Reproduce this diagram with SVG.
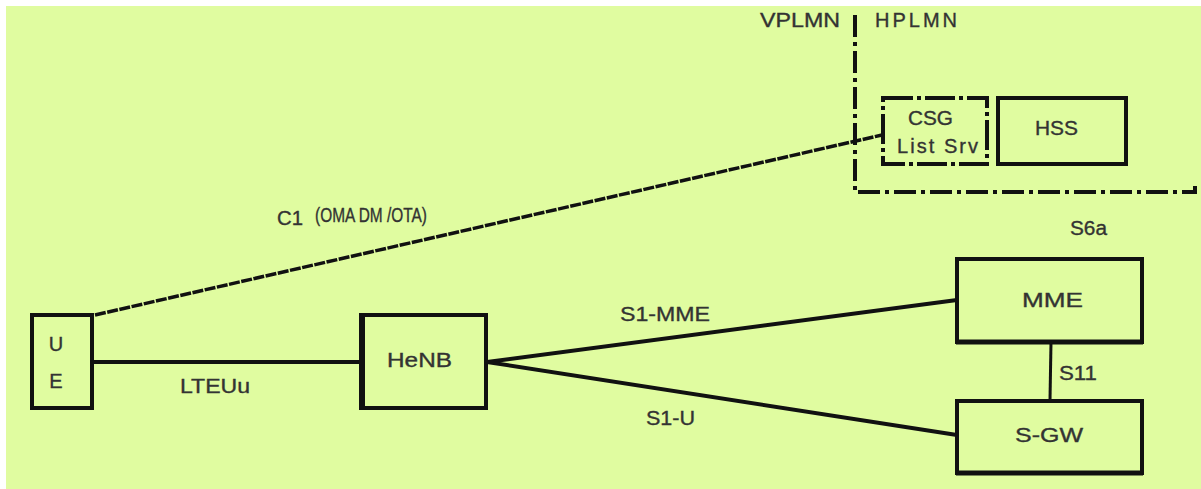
<svg xmlns="http://www.w3.org/2000/svg" width="1201" height="489" viewBox="0 0 1201 489">
<style>
.box{fill:none;stroke:#111;stroke-width:4}
.t{font-family:"Liberation Sans",Arial,sans-serif;fill:#333;stroke:#333;stroke-width:0.35;font-size:20px}
.ln{stroke:#111;fill:none}
</style>
<rect x="0" y="0" width="1201" height="489" fill="#fff"/>
<rect x="6" y="6" width="1195" height="483" fill="#e0fca0"/>
<g id="boundary">
<path class="ln" d="M855 15 V192 H1195 L1195 186" stroke-width="4" stroke-dasharray="22 5 4 5"/>
<text class="t" x="760" y="27" font-size="17" textLength="80" lengthAdjust="spacingAndGlyphs">VPLMN</text>
<text class="t" x="875" y="27" font-size="17" textLength="82" lengthAdjust="spacing">HPLMN</text>
</g>
<g id="connectors">
<path class="ln" d="M95 315 L882 135" stroke-width="3.5" stroke-dasharray="11 1.5"/>
<path class="ln" d="M93 362 H360" stroke-width="4"/>
<path class="ln" d="M487 362 L957 300" stroke-width="4"/>
<path class="ln" d="M487 362 L957 435" stroke-width="4"/>
<path class="ln" d="M1051 342 L1050 400" stroke-width="3"/>
<text class="t" x="277" y="225" font-size="21" textLength="26" lengthAdjust="spacingAndGlyphs">C1</text>
<text class="t" x="315" y="222" font-size="12" stroke-width="0.2" textLength="112" lengthAdjust="spacingAndGlyphs">(OMA DM /OTA)</text>
<text class="t" x="180" y="393" textLength="70" lengthAdjust="spacingAndGlyphs">LTEUu</text>
<text class="t" x="620" y="321" textLength="90" lengthAdjust="spacingAndGlyphs">S1-MME</text>
<text class="t" x="646" y="425" textLength="49" lengthAdjust="spacingAndGlyphs">S1-U</text>
<text class="t" x="1059" y="380" textLength="38" lengthAdjust="spacingAndGlyphs">S11</text>
<text class="t" x="1070" y="235" textLength="37" lengthAdjust="spacingAndGlyphs">S6a</text>
</g>
<g id="UE">
<rect class="box" x="32" y="315" width="60" height="93"/>
<text class="t" x="56" y="351" font-size="21" text-anchor="middle">U</text>
<text class="t" x="56" y="388" font-size="21" text-anchor="middle">E</text>
</g>
<g id="HeNB">
<rect class="box" x="362" y="315" width="124" height="93" stroke-width="4"/>
<path class="ln" d="M362 313 V410" stroke-width="6"/>
<text class="t" x="387" y="367" textLength="65" lengthAdjust="spacingAndGlyphs">HeNB</text>
</g>
<g id="CSG">
<rect class="box" x="883" y="98" width="104" height="66" stroke-dasharray="30 4 4 4"/>
<text class="t" x="908" y="125" font-size="20" textLength="45" lengthAdjust="spacingAndGlyphs">CSG</text>
<text class="t" x="897" y="153" font-size="20" textLength="81" lengthAdjust="spacing">List Srv</text>
</g>
<g id="HSS">
<rect class="box" x="998" y="98" width="128" height="66" stroke-width="5"/>
<text class="t" x="1035" y="135" font-size="20" textLength="43" lengthAdjust="spacingAndGlyphs">HSS</text>
</g>
<g id="MME">
<rect class="box" x="957" y="259" width="185" height="83" stroke-width="3"/>
<path class="ln" d="M956 342 H1143" stroke-width="5"/>
<text class="t" x="1022" y="307" textLength="61" lengthAdjust="spacingAndGlyphs">MME</text>
</g>
<g id="SGW">
<rect class="box" x="957" y="401" width="185" height="72" stroke-width="3"/>
<path class="ln" d="M956 473 H1143" stroke-width="5"/>
<text class="t" x="1015" y="442" textLength="68" lengthAdjust="spacingAndGlyphs">S-GW</text>
</g>
</svg>
